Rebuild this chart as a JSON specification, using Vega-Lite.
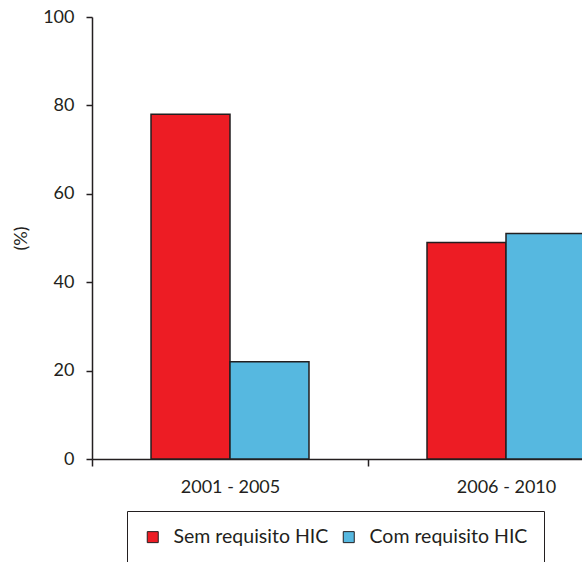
{
  "$schema": "https://vega.github.io/schema/vega-lite/v6.json",
  "width": 490,
  "height": 442,
  "autosize": {"type": "none"},
  "padding": {"left": 92, "top": 17, "right": 0, "bottom": 103},
  "background": "white",
  "config": {
    "view": {"stroke": null},
    "font": "Lato",
    "axis": {
      "labelFont": "Lato",
      "titleFont": "Lato",
      "labelFontSize": 18,
      "titleFontSize": 18,
      "labelColor": "#231F20",
      "titleColor": "#231F20",
      "titleFontWeight": "normal",
      "domainColor": "#231F20",
      "tickColor": "#231F20",
      "domainWidth": 1.5,
      "tickWidth": 1.5,
      "grid": false
    },
    "legend": {
      "labelFont": "Lato",
      "labelFontSize": 19.5,
      "labelColor": "#231F20",
      "labelLimit": 300
    }
  },
  "data": {
    "values": [
      {"periodo": "2001 - 2005", "grupo": "Sem requisito HIC", "pct": 78},
      {"periodo": "2001 - 2005", "grupo": "Com requisito HIC", "pct": 22},
      {"periodo": "2006 - 2010", "grupo": "Sem requisito HIC", "pct": 49},
      {"periodo": "2006 - 2010", "grupo": "Com requisito HIC", "pct": 51}
    ]
  },
  "mark": {"type": "bar", "stroke": "#231F20", "strokeWidth": 1.5, "clip": true},
  "encoding": {
    "x": {
      "field": "periodo",
      "type": "nominal",
      "scale": {"range": [0, 552], "paddingInner": 0, "paddingOuter": 0},
      "axis": {
        "title": null,
        "labelAngle": 0,
        "tickBand": "extent",
        "tickSize": 7,
        "labelPadding": 12
      }
    },
    "xOffset": {
      "field": "grupo",
      "type": "nominal",
      "sort": ["Sem requisito HIC", "Com requisito HIC"],
      "scale": {"paddingInner": 0, "paddingOuter": 0.747}
    },
    "y": {
      "field": "pct",
      "type": "quantitative",
      "scale": {"domain": [0, 100], "nice": false},
      "axis": {
        "title": "(%)",
        "values": [0, 20, 40, 60, 80, 100],
        "tickSize": 6,
        "labelPadding": 12,
        "titlePadding": 12
      }
    },
    "color": {
      "field": "grupo",
      "type": "nominal",
      "sort": ["Sem requisito HIC", "Com requisito HIC"],
      "scale": {
        "domain": ["Sem requisito HIC", "Com requisito HIC"],
        "range": ["#ED1C24", "#56B8E0"]
      },
      "legend": {
        "title": null,
        "orient": "none",
        "legendX": 35,
        "legendY": 494,
        "direction": "horizontal",
        "strokeColor": "#231F20",
        "padding": 16,
        "symbolType": "square",
        "symbolSize": 121,
        "symbolStrokeColor": "#231F20",
        "symbolStrokeWidth": 1,
        "labelOffset": 11,
        "columnPadding": 10
      }
    }
  }
}
